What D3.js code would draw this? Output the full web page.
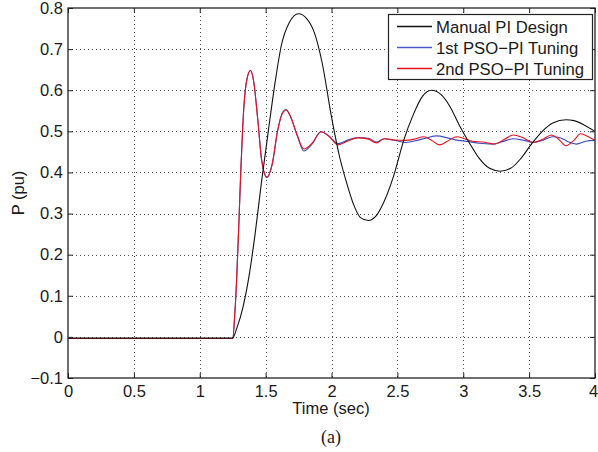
<!DOCTYPE html>
<html>
<head>
<meta charset="utf-8">
<script src="https://cdn.jsdelivr.net/npm/d3@7"></script>
<style>
  body { margin: 0; background: #fff; }
  text { font-family: "Liberation Sans", Arial, sans-serif; fill: #1a1a1a; }
</style>
</head>
<body>
<svg width="598" height="452"></svg>
<script>
// Manual PI design (black)
const manualT = [0, 1.25, 1.28, 1.33, 1.37, 1.42, 1.47, 1.52, 1.57, 1.62, 1.68, 1.75, 1.81, 1.87, 1.93, 2.00, 2.06, 2.11, 2.17, 2.22, 2.28, 2.34, 2.40, 2.47, 2.55, 2.62, 2.69, 2.76, 2.83, 2.90, 2.97, 3.05, 3.12, 3.20, 3.28, 3.36, 3.44, 3.52, 3.60, 3.68, 3.78, 3.84, 3.92, 4.0];
const manualP = [-0.003, -0.003, 0.02, 0.075, 0.14, 0.25, 0.38, 0.50, 0.615, 0.71, 0.765, 0.786, 0.775, 0.74, 0.665, 0.535, 0.44, 0.38, 0.32, 0.29, 0.283, 0.295, 0.33, 0.39, 0.48, 0.54, 0.585, 0.600, 0.59, 0.56, 0.515, 0.47, 0.435, 0.41, 0.403, 0.41, 0.435, 0.47, 0.50, 0.52, 0.528, 0.526, 0.515, 0.50];

// 1st PSO-PI tuning (blue)
const pso1T = [0, 1.25, 1.265, 1.28, 1.295, 1.31, 1.335, 1.36, 1.385, 1.41, 1.44, 1.47, 1.51, 1.55, 1.59, 1.63, 1.655, 1.69, 1.74, 1.79, 1.85, 1.92, 1.98, 2.05, 2.12, 2.20, 2.28, 2.34, 2.40, 2.48, 2.57, 2.65, 2.72, 2.80, 2.88, 2.96, 3.04, 3.12, 3.22, 3.30, 3.38, 3.46, 3.53, 3.60, 3.68, 3.74, 3.80, 3.86, 3.93, 4.0];
const pso1P = [-0.004, -0.004, 0.05, 0.14, 0.26, 0.39, 0.56, 0.63, 0.648, 0.62, 0.53, 0.43, 0.387, 0.42, 0.50, 0.547, 0.553, 0.535, 0.49, 0.452, 0.468, 0.499, 0.489, 0.47, 0.478, 0.485, 0.483, 0.474, 0.482, 0.478, 0.473, 0.478, 0.484, 0.489, 0.484, 0.478, 0.475, 0.471, 0.469, 0.475, 0.482, 0.478, 0.473, 0.478, 0.487, 0.484, 0.474, 0.469, 0.476, 0.478];

// 2nd PSO-PI tuning (red)
const pso2T = [0, 1.25, 1.265, 1.28, 1.295, 1.31, 1.335, 1.36, 1.385, 1.41, 1.44, 1.47, 1.51, 1.55, 1.59, 1.63, 1.655, 1.69, 1.74, 1.79, 1.85, 1.92, 1.98, 2.05, 2.12, 2.20, 2.28, 2.34, 2.40, 2.48, 2.56, 2.63, 2.70, 2.76, 2.82, 2.89, 2.95, 3.01, 3.07, 3.15, 3.24, 3.31, 3.38, 3.45, 3.53, 3.60, 3.67, 3.72, 3.78, 3.84, 3.89, 3.95, 4.0];
const pso2P = [-0.004, -0.004, 0.05, 0.14, 0.26, 0.39, 0.56, 0.63, 0.648, 0.62, 0.53, 0.43, 0.389, 0.42, 0.50, 0.545, 0.552, 0.535, 0.49, 0.457, 0.47, 0.499, 0.488, 0.467, 0.476, 0.484, 0.481, 0.472, 0.482, 0.479, 0.478, 0.481, 0.487, 0.478, 0.467, 0.478, 0.487, 0.482, 0.476, 0.474, 0.469, 0.48, 0.491, 0.485, 0.473, 0.48, 0.491, 0.482, 0.465, 0.478, 0.494, 0.487, 0.478];

const xTicks = [0, 0.5, 1, 1.5, 2, 2.5, 3, 3.5, 4];
const yTicks = [-0.1, 0, 0.1, 0.2, 0.3, 0.4, 0.5, 0.6, 0.7, 0.8];
const legendLabels = ["Manual PI Design", "1st PSO\u2212PI Tuning", "2nd PSO\u2212PI Tuning"];

const svg = d3.select("svg");
const pLeft = 68, pRight = 595, pTop = 8, pBottom = 378;
const fs = 16.5;

let x = d3.scaleLinear().domain([0, 4]).range([pLeft, pRight]);
let y = d3.scaleLinear().domain([-0.1, 0.8]).range([pBottom, pTop]);

svg.append("rect").attr("width", 598).attr("height", 452).attr("fill", "#fff");

// dotted grid
let grid = svg.append("g").attr("stroke", "#555").attr("stroke-width", 1).attr("stroke-dasharray", "1,3");
grid.selectAll(".gx").data(xTicks.slice(1, -1)).enter().append("line")
  .attr("x1", d => Math.round(x(d)) + 0.5).attr("x2", d => Math.round(x(d)) + 0.5)
  .attr("y1", pTop).attr("y2", pBottom);
grid.selectAll(".gy").data(yTicks.slice(1, -1)).enter().append("line")
  .attr("y1", d => Math.round(y(d)) + 0.5).attr("y2", d => Math.round(y(d)) + 0.5)
  .attr("x1", pLeft).attr("x2", pRight);

// curves
let line = d3.line().x(d => x(d[0])).y(d => y(d[1])).curve(d3.curveMonotoneX);
const series = [
  { t: pso1T, p: pso1P, color: "#3a4ec0" },
  { t: pso2T, p: pso2P, color: "#e8101c" },
  { t: manualT, p: manualP, color: "#111" }
];
svg.append("clipPath").attr("id", "plotclip").append("rect")
  .attr("x", pLeft).attr("y", pTop).attr("width", pRight - pLeft).attr("height", pBottom - pTop);
svg.append("g").attr("clip-path", "url(#plotclip)")
  .selectAll("path").data(series).enter().append("path")
    .attr("d", s => line(s.t.map((t, i) => [t, s.p[i]])))
    .attr("fill", "none")
    .attr("stroke", s => s.color)
    .attr("stroke-width", 1.1);

// axes with inward ticks
let axB = svg.append("g").attr("transform", `translate(0,${pBottom})`)
  .call(d3.axisBottom(x).tickValues(xTicks).tickSizeInner(-5).tickSizeOuter(0).tickPadding(7).tickFormat(d3.format("")));
let axL = svg.append("g").attr("transform", `translate(${pLeft},0)`)
  .call(d3.axisLeft(y).tickValues(yTicks).tickSizeInner(-5).tickSizeOuter(0).tickPadding(5)
    .tickFormat(d => d3.format("")(d).replace("-", "\u2212")));
let axT = svg.append("g").attr("transform", `translate(0,${pTop})`)
  .call(d3.axisTop(x).tickValues(xTicks).tickSizeInner(-5).tickSizeOuter(0).tickFormat(""));
let axR = svg.append("g").attr("transform", `translate(${pRight},0)`)
  .call(d3.axisRight(y).tickValues(yTicks).tickSizeInner(-5).tickSizeOuter(0).tickFormat(""));
[axB, axL, axT, axR].forEach(a => {
  a.select(".domain").remove();
  a.selectAll("line").attr("stroke", "#222");
  a.selectAll("text").attr("font-size", fs).attr("fill", "#1a1a1a")
    .attr("font-family", "Liberation Sans, Arial, sans-serif");
});
axB.selectAll("text").filter(d => d === 4).attr("dx", -2);
svg.append("rect").attr("x", pLeft).attr("y", pTop).attr("width", pRight - pLeft).attr("height", pBottom - pTop)
  .attr("fill", "none").attr("stroke", "#222").attr("stroke-width", 1.3);

// axis labels
svg.append("text").attr("x", 331).attr("y", 414).attr("text-anchor", "middle")
  .attr("font-size", fs).text("Time (sec)");
svg.append("text").attr("transform", "translate(24,193) rotate(-90)").attr("text-anchor", "middle")
  .attr("font-size", fs).text("P (pu)");
svg.append("text").attr("x", 331).attr("y", 443).attr("text-anchor", "middle")
  .attr("font-size", 18).style("font-family", "Liberation Serif, Times New Roman, serif").text("(a)");

// legend
let lg = svg.append("g");
lg.append("rect").attr("x", 388.5).attr("y", 14.5).attr("width", 204).attr("height", 65)
  .attr("fill", "#fff").attr("stroke", "#222").attr("stroke-width", 1.2);
let rows = lg.selectAll(".row").data(legendLabels).enter().append("g")
  .attr("transform", (d, i) => `translate(0,${26.5 + i * 21})`);
rows.append("line").attr("x1", 397).attr("x2", 432).attr("y1", 0).attr("y2", 0)
  .attr("stroke", (d, i) => ["#111", "#4a5ccc", "#e8101c"][i]).attr("stroke-width", 1.4);
rows.append("text").attr("x", 436).attr("y", 6).attr("font-size", 16.7).text(d => d);
</script>
</body>
</html>
